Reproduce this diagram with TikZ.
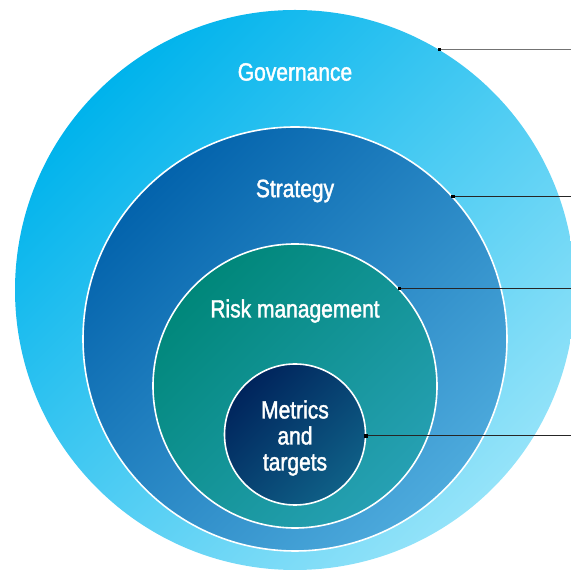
\documentclass[tikz,border=0pt]{standalone}
\usepackage{fontspec}
\setmainfont[FakeStretch=0.84,FakeBold=1.6]{Liberation Sans}
\definecolor{govA}{HTML}{00B3EC}
\definecolor{govB}{HTML}{94E3F9}
\definecolor{stratA}{HTML}{0363AC}
\definecolor{stratB}{HTML}{4DAADC}
\definecolor{riskA}{HTML}{00877A}
\definecolor{riskB}{HTML}{26A0B3}
\definecolor{metA}{HTML}{00245C}
\definecolor{metB}{HTML}{0F6087}

\begin{document}
\begin{tikzpicture}[x=1pt,y=1pt,
    ring/.style={circle,inner sep=0pt,minimum size=#1,draw=white,line width=1.6pt},
    title/.style={text=white,font=\fontsize{25}{26}\selectfont,align=center},
    leader/.style={line width=1.4pt,draw=black!85}]
  \useasboundingbox (0,0) rectangle (571,570);
  \clip (0,0) rectangle (571,570);
  % rings, outside in
  \node[ring=560pt,draw=none,left color=govA,right color=govB,shading angle=45] (gov) at (295,280) {};
  \node[ring=424pt,left color=stratA,right color=stratB,shading angle=45] (strat) at (295,231) {};
  \node[ring=284pt,left color=riskA,right color=riskB,shading angle=45] (risk) at (295,184) {};
  \node[ring=141pt,left color=metA,right color=metB,shading angle=45] (metric) at (295,135.5) {};
  \node[title] (govtext) at (295,498) {Governance};
  \node[title] (strattext) at (295,379) {Strategy};
  \node[title] (risktext) at (295,259) {Risk management};
  \node[title] (metrictext) at (295,132) {Metrics\\and\\targets};
  % leaders to the right edge
  \coordinate (edge) at (571,0);
  \draw[leader,draw=black!55] (gov.59) -- (gov.59 -| edge);
  \draw[leader] (strat.42.4) -- (strat.42.4 -| edge);
  \draw[leader] (risk.43.6) -- (risk.43.6 -| edge);
  \draw[leader] (metric.-1) -- (metric.-1 -| edge);
  \fill (gov.59) ++(-1.8,-1.8) rectangle ++(3.6,3.6);
  \fill (strat.42.4) ++(-1.8,-1.8) rectangle ++(3.6,3.6);
  \fill (risk.43.6) ++(-1.8,-1.8) rectangle ++(3.6,3.6);
  \fill (metric.-1) ++(-1.8,-1.8) rectangle ++(3.6,3.6);
\end{tikzpicture}
\end{document}
